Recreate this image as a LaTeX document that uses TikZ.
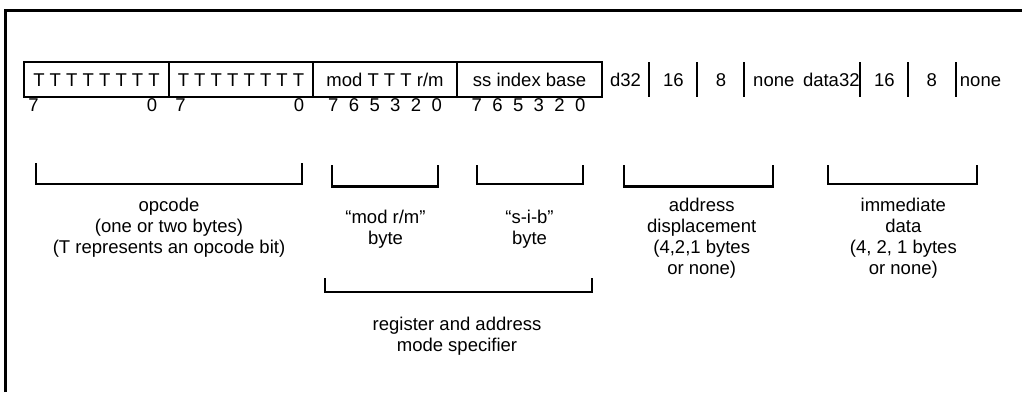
\documentclass[tikz,border=0pt]{standalone}
\usepackage{fontspec}
\setmainfont{Liberation Sans}
\newcommand{\gp}{\hspace{10.4pt}}
\begin{document}
\begin{tikzpicture}[x=1pt,y=-1pt,
  every node/.style={font=\fontsize{18.5}{21}\selectfont, inner sep=0pt, outer sep=0pt},
  cell/.style={draw, line width=2pt, minimum height=35pt, text height=13.3pt, text depth=0pt},
  bitno/.style={anchor=base},
  fieldtxt/.style={anchor=base},
  sepbar/.style={line width=2.3pt},
  bracket/.style={line width=2.3pt},
  frameline/.style={line width=3pt},
  lbl/.style={anchor=base, align=center},
]
\useasboundingbox (0,0) rectangle (1022,392);
% frame (top and left only)
\draw[frameline] (5.5,392) -- (5.5,10.5) -- (1022,10.5);

% byte cells
\node[cell, minimum width=145pt] (c1) at (96.5,79.5) {T T T T T T T T};
\node[cell, minimum width=144pt] (c2) at (241,79.5) {T T T T T T T T};
\node[cell, minimum width=144pt] (c3) at (385,79.5) {mod T T T r/m};
\node[cell, minimum width=145pt] (c4) at (529.5,79.5) {ss index base};

% bit numbers
\node[bitno] (b1a) at (33.5,111.7) {7};
\node[bitno] (b1b) at (152,111.7) {0};
\node[bitno] (b2a) at (180.5,111.7) {7};
\node[bitno] (b2b) at (299,111.7) {0};
\node[bitno] (b3) at (385,111.7) {7\gp6\gp5\gp3\gp2\gp0};
\node[bitno] (b4) at (528.5,111.7) {7\gp6\gp5\gp3\gp2\gp0};

% displacement / immediate fields
\node[fieldtxt] (d32) at (625.5,86) {d32};
\node[fieldtxt] (d16) at (673.3,86) {16};
\node[fieldtxt] (d8) at (721,86) {8};
\node[fieldtxt] (dn) at (773.8,86) {none};
\node[fieldtxt] (i32) at (831.3,86) {data32};
\node[fieldtxt] (i16) at (884.3,86) {16};
\node[fieldtxt] (i8) at (931.7,86) {8};
\node[fieldtxt] (in) at (980.5,86) {none};

\foreach \x in {649.3,696.7,744.3,860,907.7,955.7}
  \draw[sepbar] (\x,62) -- (\x,97);

% brackets
\draw[bracket] (35.7,163.3) -- (35.7,184.3) -- (302.3,184.3) -- (302.3,163.3);
\draw[bracket] (331.7,165) -- (331.7,186.5) -- (438.3,186.5) -- (438.3,165);
\draw[bracket] (476.7,165) -- (476.7,184.3) -- (583.3,184.3) -- (583.3,165);
\draw[bracket] (624,165) -- (624,186.5) -- (772.7,186.5) -- (772.7,165);
\draw[bracket] (828,165) -- (828,184.3) -- (977.3,184.3) -- (977.3,165);
\draw[bracket] (325,278.3) -- (325,291.7) -- (592.3,291.7) -- (592.3,278.3);

% labels (anchor=base is the baseline of the last line)
\node[lbl] (lop) at (169,253.7) {opcode\\(one or two bytes)\\(T represents an opcode bit)};
\node[lbl] (lmod) at (385.5,244.3) {“mod r/m”\\byte};
\node[lbl] (lsib) at (529.5,244.3) {“s-i-b”\\byte};
\node[lbl] (lreg) at (457,351.7) {register and address\\mode specifier};
\node[lbl] (ladr) at (701.7,274.7) {address\\displacement\\(4,2,1 bytes\\or none)};
\node[lbl] (limm) at (903.3,274.7) {immediate\\data\\(4, 2, 1 bytes\\or none)};
\end{tikzpicture}
\end{document}
